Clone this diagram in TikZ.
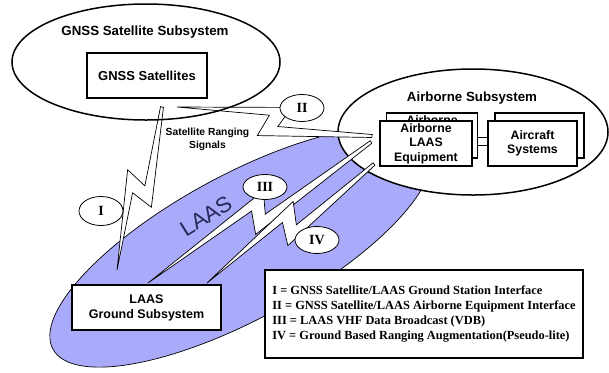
\documentclass[tikz,border=0pt]{standalone}
\usepackage{fontspec}
\setmainfont{Liberation Serif}
\setsansfont{Liberation Sans}
\usetikzlibrary{shapes.geometric,calc}
\definecolor{laasBlue}{RGB}{170,170,250}
\definecolor{laasInk}{RGB}{40,40,90}

\begin{document}
\begin{tikzpicture}[x=1bp, y=-1bp,
    sysOval/.style={ellipse, draw, line width=1.5bp, inner sep=0pt},
    sysTitle/.style={font=\sffamily\bfseries\fontsize{13.3bp}{16bp}\selectfont},
    unitBox/.style={rectangle, draw, fill=white, line width=1.4bp, inner sep=0pt,
                    align=center, font=\sffamily\bfseries\fontsize{12.3bp}{14.5bp}\selectfont},
    ifaceTag/.style={ellipse, draw, fill=white, line width=0.8bp, inner sep=0pt,
                     minimum width=44bp, minimum height=27bp,
                     font=\bfseries\fontsize{14bp}{14bp}\selectfont},
    bolt/.style={draw, fill=white, line width=0.7bp, to path={
        let \p1=($(\tikztotarget)-(\tikztostart)$), \n1={atan2(\y1,\x1)},
            \n2={0.5*veclen(\x1,\y1)} in
        {[shift={(\tikztostart)}, rotate=\n1]
          (0pt,-1.5pt) -- ({\n2*1pt-4pt},4.5pt) -- ({\n2*1pt-15pt},-16.5pt)
          -- ({2*\n2*1pt},0pt) -- ({\n2*1pt+6pt},-5.5pt) -- ({\n2*1pt+15pt},16.5pt)
          -- (0pt,1.5pt) -- cycle}}}
  ]
  \useasboundingbox (0,0) rectangle (609,372);

  % LAAS coverage area
  \node[ellipse, draw, fill=laasBlue, line width=0.7bp, rotate=28.5,
        minimum width=428bp, minimum height=144bp] (laas) at (241,247) {};
  \node[font=\sffamily\fontsize{22bp}{22bp}\selectfont, text=laasInk, rotate=32]
    (laasLbl) at (206,216) {LAAS};

  % airborne side
  \node[sysOval, fill=white, minimum width=270bp, minimum height=126bp] (air) at (473,132) {};

  % signal paths
  \coordinate (b1s) at (162,107); \coordinate (b1e) at (117,270);
  \coordinate (b2s) at (372,136); \coordinate (b2e) at (177,107);
  \coordinate (b3s) at (371,142); \coordinate (b3e) at (148,283);
  \coordinate (b4s) at (374,164); \coordinate (b4e) at (207,283);
  \draw[bolt] (b1s) to (b1e);
  \draw[bolt] (b2s) to (b2e);
  \draw[bolt] (b3s) to (b3e);
  \draw[bolt] (b4s) to (b4e);

  % satellite side
  \node[sysOval, minimum width=268bp, minimum height=116bp] (gnss) at (146,62) {};
  \node[sysTitle] (gnssTtl) at (145,32) {GNSS Satellite Subsystem};
  \node[unitBox, minimum width=120bp, minimum height=45bp,
        font=\sffamily\bfseries\fontsize{13bp}{15bp}\selectfont] (sats) at (147,75.5) {GNSS Satellites};
  \node[font=\sffamily\bfseries\fontsize{10.3bp}{13bp}\selectfont, align=center]
    (srs) at (207.5,139.5) {Satellite Ranging\\Signals};

  % interface tags
  \node[ifaceTag, minimum height=29bp] (tagI) at (101,211) {I};
  \node[ifaceTag] (tagII) at (302,108) {II};
  \node[ifaceTag, minimum height=25bp] (tagIII) at (265,187) {III};
  \node[ifaceTag] (tagIV) at (317,240) {IV};

  % airborne units
  \node[sysTitle] (airTtl) at (472,98) {Airborne Subsystem};
  \node[unitBox, minimum width=91bp, minimum height=45bp] (eqBack) at (432,135.5) {Airborne\\LAAS\\Equipment};
  \node[unitBox, minimum width=89bp, minimum height=45bp] (acBack) at (539.5,135.5) {};
  \foreach \dy in {6.5,-1.5}
    \draw[line width=0.8bp] ([yshift=\dy bp]eqBack.east |- 0,143.5) -- ([yshift=\dy bp]acBack.west |- 0,143.5);
  \node[unitBox, minimum width=92bp, minimum height=45bp] (eq) at (426,143.5) {Airborne\\LAAS\\Equipment};
  \node[unitBox, minimum width=89bp, minimum height=45bp] (ac) at (532.5,143.5) {Aircraft\\Systems};

  % ground unit
  \node[unitBox, minimum width=149bp, minimum height=45bp,
        font=\sffamily\bfseries\fontsize{12.5bp}{15bp}\selectfont] (ground) at (146.5,307.5) {LAAS\\Ground Subsystem};

  % key
  \node[draw, fill=white, line width=1.4bp, minimum width=318bp, minimum height=88bp,
        align=left, font=\bfseries\fontsize{12.4bp}{15bp}\selectfont] (key) at (424,314)
    {I = GNSS Satellite/LAAS Ground Station Interface\\
     II = GNSS Satellite/LAAS Airborne Equipment Interface\\
     III = LAAS VHF Data Broadcast (VDB)\\
     IV = Ground Based Ranging Augmentation(Pseudo-lite)};
\end{tikzpicture}
\end{document}
